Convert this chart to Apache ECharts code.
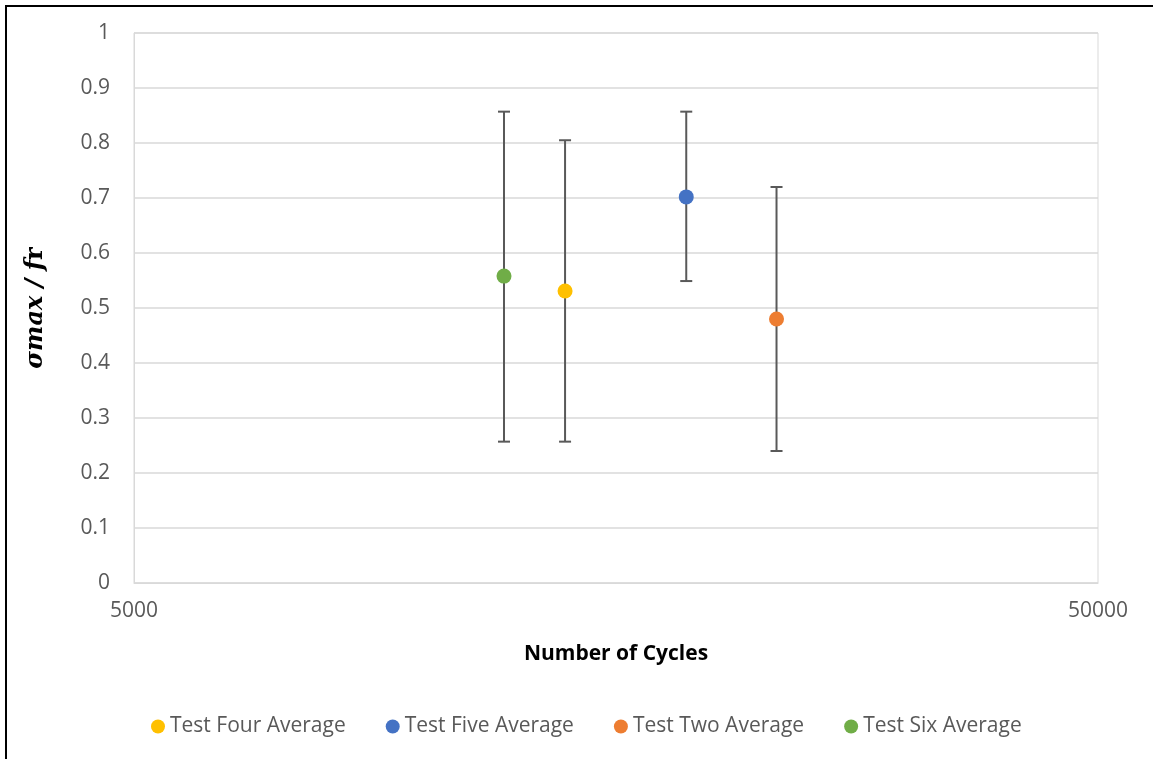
<!DOCTYPE html>
<html>
<head>
<meta charset="utf-8">
<script src="https://cdn.jsdelivr.net/npm/echarts@6/dist/echarts.min.js"></script>
<style>
  html, body { margin: 0; padding: 0; background: #fff; overflow: hidden; }
  #chart { position: absolute; left: 0; top: 0; width: 1153px; height: 759px; }
  .frame { position: absolute; left: 5px; top: 5px; width: 1200px; height: 800px; border: 2px solid #000; pointer-events: none; }
</style>
</head>
<body>
<div id="chart"></div>
<div class="frame"></div>
<script>
// data
const seriesNames = ['Test Four Average', 'Test Five Average', 'Test Two Average', 'Test Six Average']
const cycles = [14000, 18700, 23200, 12100]
const means = [0.531, 0.702, 0.480, 0.558]
const lows = [0.257, 0.549, 0.240, 0.257]
const highs = [0.805, 0.857, 0.720, 0.857]
const xTickLabels = [5000, 50000]

const colors = ['#FFC000', '#4472C4', '#ED7D31', '#70AD47']
const labelColor = '#595959'
const gridColor = '#d9d9d9'
const font = 'Open Sans'

const myChart = echarts.init(document.getElementById('chart'))

// error bars, one custom series for all points
const errorSeries = {
  name: 'errors',
  type: 'custom',
  z: 1,
  silent: true,
  encode: { x: 0, y: [1, 2, 3] },
  data: cycles.map((c, i) => [c, means[i], lows[i], highs[i]]),
  renderItem(params, api) {
    const x = api.value(0)
    const top = api.coord([x, api.value(3)])
    const bot = api.coord([x, api.value(2)])
    const w = 6
    const style = { stroke: labelColor, lineWidth: 2 }
    return {
      type: 'group',
      children: [
        { type: 'line', shape: { x1: top[0], y1: top[1], x2: bot[0], y2: bot[1] }, style },
        { type: 'line', shape: { x1: top[0] - w, y1: top[1], x2: top[0] + w, y2: top[1] }, style },
        { type: 'line', shape: { x1: bot[0] - w, y1: bot[1], x2: bot[0] + w, y2: bot[1] }, style }
      ]
    }
  }
}

const pointSeries = seriesNames.map((name, i) => ({
  name,
  type: 'scatter',
  z: 3,
  symbol: 'circle',
  symbolSize: 15,
  itemStyle: { color: colors[i], opacity: 1 },
  data: [[cycles[i], means[i]]]
}))

const option = {
  animation: false,
  textStyle: { fontFamily: font },
  grid: {
    left: 134,
    right: 55,
    top: 33,
    bottom: 176,
    show: true,
    borderColor: gridColor,
    borderWidth: 1
  },
  legend: {
    data: seriesNames.map((name, i) => ({ name, itemStyle: { color: colors[i] } })),
    left: 146,
    top: 711,
    icon: 'circle',
    itemWidth: 14,
    itemHeight: 14,
    itemGap: 40,
    textStyle: { fontSize: 21, color: labelColor, fontFamily: font }
  },
  xAxis: {
    type: 'log',
    logBase: 10,
    min: 5000,
    max: 50000,
    name: 'Number of Cycles',
    nameLocation: 'middle',
    nameGap: 61,
    nameTextStyle: { fontSize: 21, fontWeight: 'bold', color: '#000', fontFamily: font },
    axisLine: { lineStyle: { color: gridColor, width: 1 } },
    axisTick: { show: false },
    splitLine: { show: false },
    axisLabel: {
      fontSize: 21,
      color: labelColor,
      margin: 18,
      showMinLabel: true,
      showMaxLabel: true,
      formatter: v => {
        const r = Math.round(v)
        return xTickLabels.indexOf(r) >= 0 ? String(r) : ''
      }
    }
  },
  yAxis: {
    type: 'value',
    min: 0,
    max: 1,
    interval: 0.1,
    name: '{i|σmax / f}{n|r}',
    nameLocation: 'middle',
    nameGap: 86,
    nameRotate: 90,
    nameTextStyle: {
      rich: {
        i: { fontFamily: 'DejaVu Serif', fontStyle: 'italic', fontWeight: 'bold', fontSize: 24, color: '#000' },
        n: { fontFamily: 'DejaVu Serif', fontWeight: 'bold', fontSize: 24, color: '#000' }
      }
    },
    axisLine: { show: true, lineStyle: { color: gridColor, width: 1 } },
    axisTick: { show: false },
    splitLine: { lineStyle: { color: gridColor, width: 1.5 } },
    axisLabel: { fontSize: 21, color: labelColor, margin: 24 }
  },
  series: [errorSeries, ...pointSeries]
}

myChart.setOption(option)
</script>
</body>
</html>
